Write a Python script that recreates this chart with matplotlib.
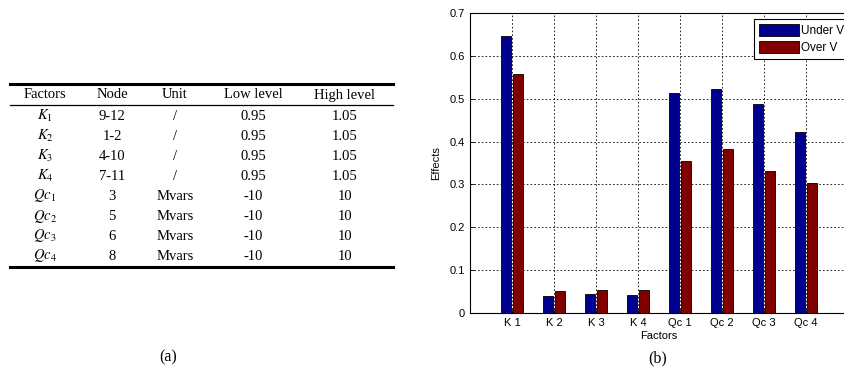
import matplotlib.pyplot as plt
import numpy as np

# bar chart data (b)
factors = ['K 1', 'K 2', 'K 3', 'K 4', 'Qc 1', 'Qc 2', 'Qc 3', 'Qc 4']
under_v = [0.646, 0.039, 0.045, 0.041, 0.513, 0.523, 0.488, 0.423]
over_v = [0.558, 0.051, 0.054, 0.054, 0.355, 0.382, 0.331, 0.303]

# table data (a)
tbl_header = ['Factors', 'Node', 'Unit', 'Low level', 'High level']
tbl_factor = ['$K_1$', '$K_2$', '$K_3$', '$K_4$', '$Qc_1$', '$Qc_2$', '$Qc_3$', '$Qc_4$']
tbl_node = ['9-12', '1-2', '4-10', '7-11', '3', '5', '6', '8']
tbl_unit = ['/', '/', '/', '/', 'Mvars', 'Mvars', 'Mvars', 'Mvars']
tbl_low = ['0.95', '0.95', '0.95', '0.95', '-10', '-10', '-10', '-10']
tbl_high = ['1.05', '1.05', '1.05', '1.05', '10', '10', '10', '10']

plt.rcParams['mathtext.fontset'] = 'stix'
W, H = 845, 376
fig = plt.figure(figsize=(W / 100, H / 100), dpi=100)

def fx(px):
    return px / W

def fy(py):
    return 1 - py / H

# ---- table (a)
serif = 'Liberation Serif'
col_x = [45, 112, 175, 253, 345]
fig.add_artist(plt.Line2D([fx(10), fx(393)], [fy(84), fy(84)], color='black', lw=2.2))
fig.add_artist(plt.Line2D([fx(10), fx(393)], [fy(105), fy(105)], color='black', lw=0.9))
fig.add_artist(plt.Line2D([fx(10), fx(393)], [fy(267), fy(267)], color='black', lw=2.2))
for x, h in zip(col_x, tbl_header):
    fig.text(fx(x), fy(95), h, ha='center', va='center', fontsize=10.5, family=serif)
cols = [tbl_factor, tbl_node, tbl_unit, tbl_low, tbl_high]
for i in range(len(tbl_node)):
    y = fy(116 + 20 * i)
    for x, col in zip(col_x, cols):
        fig.text(fx(x), y, col[i], ha='center', va='center', fontsize=10.5, family=serif)
fig.text(fx(168), fy(357), '(a)', ha='center', va='center', fontsize=11.5, family=serif)
fig.text(fx(658), fy(358), '(b)', ha='center', va='center', fontsize=11.5, family=serif)

# ---- bar chart (b)
ax = fig.add_axes([fx(470), fy(313), fx(848 - 470), (313 - 13) / H])
x = np.arange(1, len(factors) + 1)
w = 0.24
ax.bar(x - 0.15, under_v, w, color='#00008f', edgecolor='black', lw=0.6, label='Under V', zorder=3)
ax.bar(x + 0.15, over_v, w, color='#800000', edgecolor='black', lw=0.6, label='Over V', zorder=3)
ax.set_xlim(0, 9)
ax.set_ylim(0, 0.7)
ax.set_xticks(x)
ax.set_xticklabels(factors)
ax.set_yticks(np.arange(0, 0.71, 0.1))
ax.set_yticklabels(['0', '0.1', '0.2', '0.3', '0.4', '0.5', '0.6', '0.7'])
ax.tick_params(direction='in', length=3, labelsize=8, width=0.6)
for lab in ax.get_xticklabels() + ax.get_yticklabels():
    lab.set_family('Liberation Sans')
ax.grid(True, color='black', linestyle=(0, (2, 2.5)), lw=0.6, zorder=1)
for s in ax.spines.values():
    s.set_linewidth(0.8)
ax.set_xlabel('Factors', fontsize=8, family='Liberation Sans', labelpad=2)
ax.set_ylabel('Effects', fontsize=8, family='Liberation Sans', labelpad=6)
leg = ax.legend(loc='upper left', bbox_to_anchor=(fx(754), fy(19)), bbox_transform=fig.transFigure,
                fancybox=False, edgecolor='black', framealpha=1, handlelength=3.4, handleheight=1.2,
                handletextpad=0.2, borderpad=0.4, labelspacing=0.35, borderaxespad=0,
                prop={'family': 'Liberation Sans', 'size': 8.5})
leg.get_frame().set_linewidth(0.8)

fig.savefig('out.png', dpi=100)
